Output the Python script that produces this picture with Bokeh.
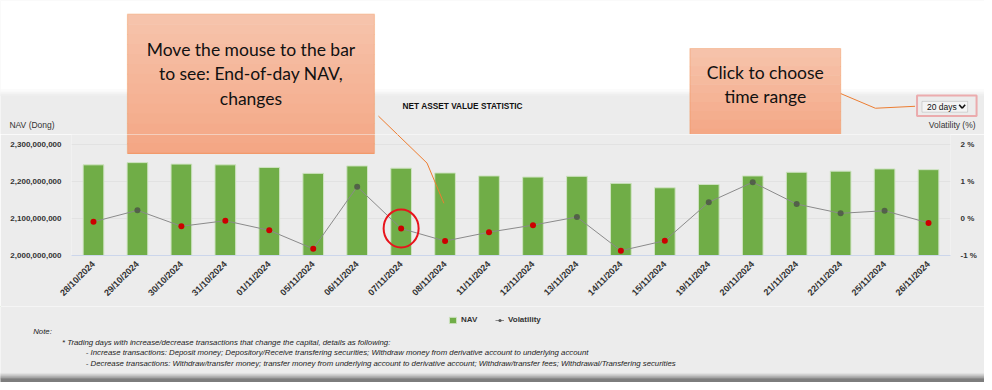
import math
from bokeh.plotting import figure
from bokeh.layouts import column
from bokeh.models import (Range1d, LinearAxis, FixedTicker, NumeralTickFormatter, Plot,
                          PrintfTickFormatter, ColumnDataSource, Legend, LegendItem, Label,
                          BoxAnnotation, Arrow)
from bokeh.embed import file_html
from bokeh.resources import INLINE

# ---------------- data ----------------
dates = ["28/10/2024", "29/10/2024", "30/10/2024", "31/10/2024", "01/11/2024",
         "05/11/2024", "06/11/2024", "07/11/2024", "08/11/2024", "11/11/2024",
         "12/11/2024", "13/11/2024", "14/11/2024", "15/11/2024", "19/11/2024",
         "20/11/2024", "21/11/2024", "22/11/2024", "25/11/2024", "26/11/2024"]
nav = [2245e6, 2251e6, 2247e6, 2245e6, 2238e6, 2222e6, 2242e6, 2236e6, 2223e6, 2215e6,
       2212e6, 2214e6, 2195e6, 2183e6, 2192e6, 2215e6, 2225e6, 2228e6, 2234e6, 2232e6]
volatility = [-0.09, 0.22, -0.21, -0.06, -0.32, -0.82, 0.86, -0.27, -0.61, -0.37,
              -0.18, 0.04, -0.87, -0.60, 0.44, 0.98, 0.39, 0.14, 0.21, -0.12]
nav_ticks = [2.0e9, 2.1e9, 2.2e9, 2.3e9]
vol_ticks = [-1, 0, 1, 2]
highlight_index = 7

title_text = "NET ASSET VALUE STATISTIC"
note_lines = [
    "Note:",
    "* Trading days with increase/decrease transactions that change the capital, details as following:",
    "- Increase transactions: Deposit money; Depository/Receive transfering securities; Withdraw money from derivative account to underlying account",
    "- Decrease transactions: Withdraw/transfer money; transfer money from underlying account to derivative account; Withdraw/transfer fees; Withdrawal/Transfering securities",
]
callout1 = ["Move the mouse to the bar", "to see: End-of-day NAV,", "changes"]
callout2 = ["Click to choose", "time range"]

# ---------------- layout constants ----------------
W, H = 984, 382
Sx, Sy = W / 992, H / 390            # page units -> canvas px
FT, FB = 147, 260                    # plot area top / bottom (page units)
BG = "#ececec"
FONT = "Liberation Sans"
TXT = "#333333"
NOALIGN = {"frame_align": False} if "frame_align" in Plot.properties() else {}

HT = 134                  # canvas height of the top strip
HB0 = 306                 # canvas y where the bottom strip starts
HM = HB0 - HT
y0 = HT / Sy              # page y of chart-figure top
frame_h = round((FB - y0) * Sy)
FBe = y0 + frame_h / Sy
ML, MR = round(72 * Sx), round(34 * Sx)
FLe, FRe = ML / Sx, (W - MR) / Sx

# ---------------- helpers for decorations (page coordinates) ----------------
def box(f, l, r, t, b, **kw):
    f.add_layout(BoxAnnotation(left=l, right=r, top=t, bottom=b,
                               x_range_name="px", y_range_name="py", **kw))

def seg(f, x0, y0_, x1, y1, color, w):
    f.add_layout(Arrow(end=None, x_start=x0, y_start=y0_, x_end=x1, y_end=y1,
                       line_color=color, line_width=w, x_range_name="px", y_range_name="py"))

def label(f, x, y, text, size, align="left", font=FONT, style="normal", color=TXT):
    f.add_layout(Label(x=x, y=y, text=text, x_range_name="px", y_range_name="py",
                       text_font=font, text_font_size=size, text_font_style=style,
                       text_color=color, text_align=align, text_baseline="middle"))

def mix(c0, c1, t):
    return "#%02x%02x%02x" % tuple(round(a + (b - a) * t) for a, b in zip(c0, c1))

def grad(f, l, r, t, b, c0, c1, n):
    h = (b - t) / n
    for i in range(n):
        box(f, l, r, t + i * h, t + (i + 1) * h + 0.6, fill_color=mix(c0, c1, (i + 0.5) / n),
            fill_alpha=1, line_color=None)

def deco_fig(h_px, top_page, bot_page):
    f = figure(width=W, height=h_px, output_backend="svg", toolbar_location=None,
               x_range=Range1d(0, W / Sx), y_range=Range1d(bot_page, top_page),
               x_axis_type=None, y_axis_type=None, min_border=0,
               background_fill_color=BG, border_fill_color=BG, outline_line_color=None,
               **NOALIGN)
    f.extra_x_ranges = {"px": Range1d(0, W / Sx)}
    f.extra_y_ranges = {"py": Range1d(bot_page, top_page)}
    return f

def callouts(f):
    seg(f, 381, 118, 430, 166, "#ed7d31", 1)
    seg(f, 430, 166, 447, 207, "#ed7d31", 1)
    grad(f, 128, 377, 14, 156, (246, 196, 172), (244, 166, 132), 14)
    box(f, 128, 377, 14, 156, fill_alpha=0, line_color="#ed7d31", line_width=1.2)

# ---------------- top strip ----------------
top = deco_fig(HT, 0, y0)
box(top, -20, 1010, -20, 91, fill_color="white", fill_alpha=1, line_color=None)
grad(top, -20, 1010, 91, 97, (255, 255, 255), (236, 236, 236), 6)
label(top, 466, 108, title_text, "8.3px", align="center", style="bold", color="#111111")
label(top, 9, 127, "NAV (Dong)", "8.5px")
label(top, 983, 127, "Volatility (%)", "8.5px", align="right")
# dropdown
box(top, 929, 975, 103, 114, fill_color="#f4f4f4", fill_alpha=1, line_color="#8c8c8c", line_width=1)
label(top, 934, 108.5, "20 days", "8.5px", color="#111111")
seg(top, 966.5, 106.5, 969.5, 110, "#111111", 1.6)
seg(top, 969.5, 110, 972.5, 106.5, "#111111", 1.6)
box(top, 924, 984, 97, 118, fill_alpha=0, line_color="#e8141c", line_width=2)
# callouts
callouts(top)
for i, t in enumerate(callout1):
    label(top, 252.5, 50 + 25 * i, t, "17.5px", align="center", font="Lato", color="#111111")
seg(top, 847, 95, 882, 110, "#ed7d31", 1)
seg(top, 882, 110, 922, 108, "#ed7d31", 1)
grad(top, 695, 847, 49, 140, (246, 196, 172), (244, 166, 132), 10)
box(top, 695, 847, 49, 140, fill_alpha=0, line_color="#ed7d31", line_width=1.2)
for i, t in enumerate(callout2):
    label(top, 771, 73 + 25 * i, t, "17.5px", align="center", font="Lato", color="#111111")

# ---------------- main chart ----------------
idx = list(range(len(dates)))
ext = (FBe - y0) / (FBe - FT)
nav_top = nav_ticks[0] + (nav_ticks[-1] - nav_ticks[0]) * ext
vol_top = vol_ticks[0] + (vol_ticks[-1] - vol_ticks[0]) * ext

p = figure(width=W, height=HM, output_backend="svg", toolbar_location=None,
           x_range=Range1d(-0.5, len(dates) - 0.5),
           y_range=Range1d(nav_ticks[0], nav_top),
           min_border_left=ML, min_border_right=MR,
           min_border_top=0, min_border_bottom=HM - frame_h,
           background_fill_color=BG, border_fill_color=BG, outline_line_color=None,
           **NOALIGN)
p.extra_y_ranges = {"vol": Range1d(vol_ticks[0], vol_top), "py": Range1d(FBe, y0)}
p.extra_x_ranges = {"px": Range1d(FLe, FRe)}

yl = p.yaxis[0]
yl.ticker = FixedTicker(ticks=nav_ticks)
yl.formatter = NumeralTickFormatter(format="0,0")
yr = LinearAxis(y_range_name="vol", ticker=FixedTicker(ticks=vol_ticks),
                formatter=PrintfTickFormatter(format="%d %%"))
p.add_layout(yr, "right")
for ax in (yl, yr):
    ax.axis_line_color = None
    ax.major_tick_line_color = None
    ax.minor_tick_line_color = None
    ax.major_tick_out = 0
    ax.major_label_standoff = 10
    ax.major_label_text_font = FONT
    ax.major_label_text_font_size = "8px"
    ax.major_label_text_font_style = "bold"
    ax.major_label_text_color = TXT

xa = p.xaxis[0]
xa.ticker = FixedTicker(ticks=idx)
xa.major_label_overrides = {i: d for i, d in zip(idx, dates)}
xa.major_label_orientation = math.pi / 4
xa.major_label_standoff = 7
xa.major_tick_out = 0
xa.major_tick_line_color = None
xa.minor_tick_line_color = None
xa.axis_line_color = "#ccd6eb"
xa.major_label_text_font = FONT
xa.major_label_text_font_size = "9px"
xa.major_label_text_font_style = "bold"
xa.major_label_text_color = TXT

p.xgrid.grid_line_color = None
p.ygrid.grid_line_color = "#e2e2e2"

src = ColumnDataSource(dict(
    i=idx, nav=nav, vol=volatility,
    mc=["#cc0000" if v < 0 else "#444444" for v in volatility],
    ma=[1.0 if v < 0 else 0.7 for v in volatility],
))
p.vbar(x="i", top="nav", bottom=nav_ticks[0], width=0.47, source=src,
       fill_color="#70ad47", line_color="#cfe3c2", line_width=1)
p.line(x="i", y="vol", source=src, y_range_name="vol", line_color="#8a8a8a", line_width=1)
p.scatter(x="i", y="vol", source=src, y_range_name="vol", size=6,
          fill_color="mc", fill_alpha="ma", line_color=None)

p.ellipse(x=[idx[highlight_index]], y=[volatility[highlight_index]], y_range_name="vol",
          width=35, height=38, width_units="screen", height_units="screen",
          fill_color=None, line_color="#e8141c", line_width=2)

callouts(p)

# ---------------- bottom strip (legend + notes) ----------------
bot = deco_fig(H - HB0, HB0 / Sy, 390)
# legend proxies: one hidden sample each, placed off the visible range
off = dict(x=[-500], y=[-500])
lg_bar = bot.vbar(x=off["x"], top=off["y"], bottom=off["y"], width=1,
                  fill_color="#70ad47", line_color="#cfe3c2")
lg_line = bot.line(x=off["x"], y=off["y"], line_color="#8a8a8a", line_width=1)
lg_dot = bot.scatter(x=off["x"], y=off["y"], size=6, fill_color="#555555", line_color=None)
legend = Legend(items=[LegendItem(label="NAV", renderers=[lg_bar]),
                       LegendItem(label="Volatility", renderers=[lg_line, lg_dot])],
                orientation="horizontal", location=(round(452 * Sx), 58),
                glyph_width=9, glyph_height=8, label_standoff=4, spacing=14,
                padding=0, margin=0, label_height=8,
                background_fill_alpha=0, border_line_alpha=0,
                label_text_font=FONT, label_text_font_size="8px",
                label_text_font_style="bold", label_text_color=TXT)
bot.add_layout(legend)

label(bot, 33, 338, note_lines[0], "7.8px", style="italic", color="#222222")
label(bot, 62, 349, note_lines[1], "7.8px", style="italic", color="#222222")
label(bot, 86, 359.5, note_lines[2], "7.8px", style="italic", color="#222222")
label(bot, 86, 370.5, note_lines[3], "7.8px", style="italic", color="#222222")
grad(bot, -20, 1010, 380, 386, (236, 236, 236), (150, 150, 150), 6)
box(bot, -20, 1010, 386, 400, fill_color="#7d7d7d", fill_alpha=1, line_color=None)

layout = column(top, p, bot, spacing=0)
open("out.html", "w").write(file_html(layout, INLINE))
